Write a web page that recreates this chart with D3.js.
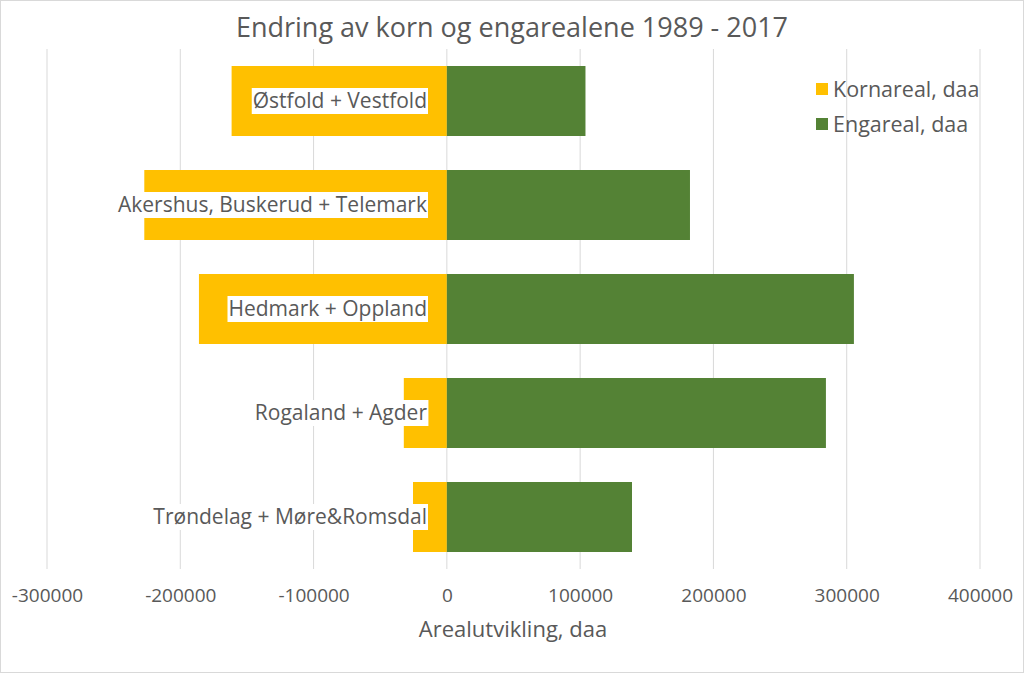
<!DOCTYPE html>
<html><head><meta charset="utf-8">
<script src="https://cdn.jsdelivr.net/npm/d3@7"></script>
<style>
body{margin:0;background:#fff;}
svg{display:block;font-family:"Open Sans",sans-serif;}
</style></head><body>
<svg id="chart" width="1024" height="673"></svg>
<script>
const categories = ["Østfold + Vestfold","Akershus, Buskerud + Telemark","Hedmark + Oppland","Rogaland + Agder","Trøndelag + Møre&Romsdal"];
const kornValues = [-161500,-227000,-186000,-32300,-25400];
const engValues = [104000,182400,305400,284400,138900];
const tickValues = [-300000,-200000,-100000,0,100000,200000,300000,400000];
const seriesNames = ["Kornareal, daa","Engareal, daa"];
const colors = ["#FFC000","#548235"];

const svg = d3.select("#chart");
const W=1024,H=673;
svg.append("rect").attr("x",0.5).attr("y",0.5).attr("width",W-1).attr("height",H-1).attr("fill","#fff").attr("stroke","#d9d9d9");

const x = d3.scaleLinear().domain([-300000,400000]).range([47,980]);
const y = d3.scaleBand().domain(categories).range([49,569]).paddingInner(0.327).paddingOuter(0.1635);

// gridlines
svg.append("g").selectAll("line").data(tickValues).join("line")
  .attr("x1",d=>x(d)).attr("x2",d=>x(d)).attr("y1",49).attr("y2",569)
  .attr("stroke","#d9d9d9").attr("stroke-width",1);

// bars
const g = svg.append("g");
g.selectAll("rect.korn").data(categories).join("rect").attr("class","korn")
  .attr("x",(d,i)=>x(kornValues[i])).attr("width",(d,i)=>x(0)-x(kornValues[i]))
  .attr("y",d=>y(d)).attr("height",y.bandwidth()).attr("fill",colors[0]);
g.selectAll("rect.eng").data(categories).join("rect").attr("class","eng")
  .attr("x",x(0)).attr("width",(d,i)=>x(engValues[i])-x(0))
  .attr("y",d=>y(d)).attr("height",y.bandwidth()).attr("fill",colors[1]);

// category labels with white background
const lab = svg.append("g");
categories.forEach((c,i)=>{
  const cy = y(c)+y.bandwidth()/2;
  const t = lab.append("text").attr("x",427).attr("y",cy).attr("dy","0.35em")
    .attr("text-anchor","end").attr("font-size",21).attr("fill","#595959").text(c);
  const bb = t.node().getBBox();
  lab.insert("rect","text").attr("x",bb.x-1).attr("y",cy-13).attr("width",bb.width+2).attr("height",26).attr("fill","#fff");
});

// x axis
const ax = d3.axisBottom(x).tickValues(tickValues).tickSize(0).tickFormat(d=>String(d));
const axg = svg.append("g").attr("transform","translate(0,585)").call(ax);
axg.select(".domain").remove();
axg.selectAll("text").attr("font-size",19).attr("fill","#595959").attr("font-family","'Open Sans',sans-serif");

svg.append("text").attr("x",513).attr("y",629).attr("dy","0.35em").attr("text-anchor","middle")
  .attr("font-size",22).attr("fill","#595959").text("Arealutvikling, daa");

svg.append("text").attr("x",512).attr("y",28).attr("dy","0.35em").attr("text-anchor","middle")
  .attr("font-size",27).attr("fill","#595959").text("Endring av korn og engarealene 1989 - 2017");

// legend
const leg = svg.append("g");
seriesNames.forEach((s,i)=>{
  const ly = 89+i*35;
  leg.append("rect").attr("x",816).attr("y",ly-6).attr("width",12).attr("height",12).attr("fill",colors[i]);
  leg.append("text").attr("x",833).attr("y",ly).attr("dy","0.35em").attr("font-size",21.5).attr("fill","#595959").text(s);
});
</script></body></html>
